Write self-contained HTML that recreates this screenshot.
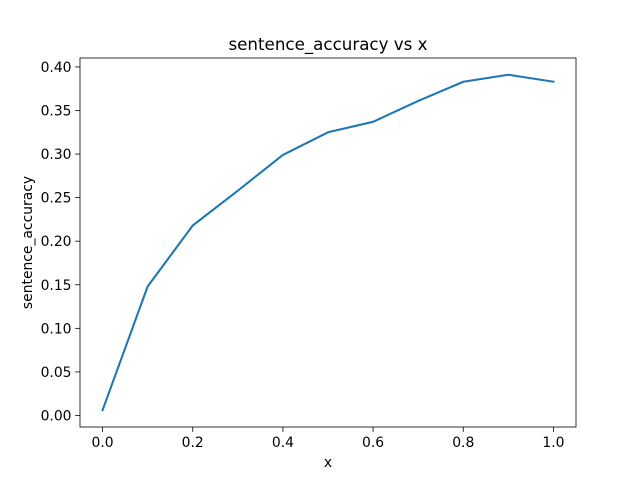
<!DOCTYPE html>
<html><head><meta charset="utf-8">
<style>body{margin:0;background:#fff}svg{display:block;font-family:"DejaVu Sans","Liberation Sans",sans-serif}</style>
</head><body>
<svg id="c" width="640" height="480"></svg>
<script>
const xValues=[0,0.1,0.2,0.3,0.4,0.5,0.6,0.7,0.8,0.9,1.0];
const accuracy=[0.006,0.148,0.218,0.258,0.299,0.325,0.337,0.361,0.383,0.391,0.383];
const xTicks=[0,0.2,0.4,0.6,0.8,1.0];
const xTickLabels=["0.0","0.2","0.4","0.6","0.8","1.0"];
const yTicks=[0,0.05,0.1,0.15,0.2,0.25,0.3,0.35,0.4];
const yTickLabels=["0.00","0.05","0.10","0.15","0.20","0.25","0.30","0.35","0.40"];
const L=80,R=576,T=58,B=427;
const xmin=-0.05,xmax=1.05;
const ymin=Math.min(...accuracy),ymax=Math.max(...accuracy),pad=(ymax-ymin)*0.05;
const y0=ymin-pad,y1=ymax+pad;
const sx=v=>L+(v-xmin)/(xmax-xmin)*(R-L);
const sy=v=>B-(v-y0)/(y1-y0)*(B-T);
const svg=document.getElementById('c');const NS='http://www.w3.org/2000/svg';
function mk(t,a,txt){const e=document.createElementNS(NS,t);for(const k in a)e.setAttribute(k,a[k]);if(txt!==undefined)e.textContent=txt;svg.appendChild(e);return e;}
let d=xValues.map((x,i)=>(i?'L':'M')+sx(x)+' '+sy(accuracy[i])).join(' ');
let p=mk('path',{d:d,fill:'none',stroke:'#1f77b4','stroke-width':2.08,'stroke-linecap':'square','stroke-linejoin':'round'});


let fr=mk('rect',{x:L,y:T,width:R-L,height:B-T,fill:'none',stroke:'#000','stroke-width':0.8});


xTicks.forEach((v,i)=>{const x=sx(v);mk('line',{x1:x,x2:x,y1:B,y2:B+4.9,stroke:'#000','stroke-width':0.8});
const t=mk('text',{x:x,y:B+20,'font-size':13.9,'text-anchor':'middle'},xTickLabels[i]);

});
yTicks.forEach((v,i)=>{const y=sy(v);mk('line',{x1:L-4.9,x2:L,y1:y,y2:y,stroke:'#000','stroke-width':0.8});
const t=mk('text',{x:L-8.5,y:y+5,'font-size':13.9,'text-anchor':'end'},yTickLabels[i]);

});
let tt=mk('text',{x:(L+R)/2,y:50,'font-size':16.7,'text-anchor':'middle'},'sentence_accuracy vs x');


let xl=mk('text',{x:(L+R)/2,y:467,'font-size':13.9,'text-anchor':'middle'},'x');


let yl=mk('text',{x:32,y:(T+B)/2,'font-size':13.9,'text-anchor':'middle',transform:'rotate(-90 32 '+(T+B)/2+')'},'sentence_accuracy');


</script>
</body></html>
